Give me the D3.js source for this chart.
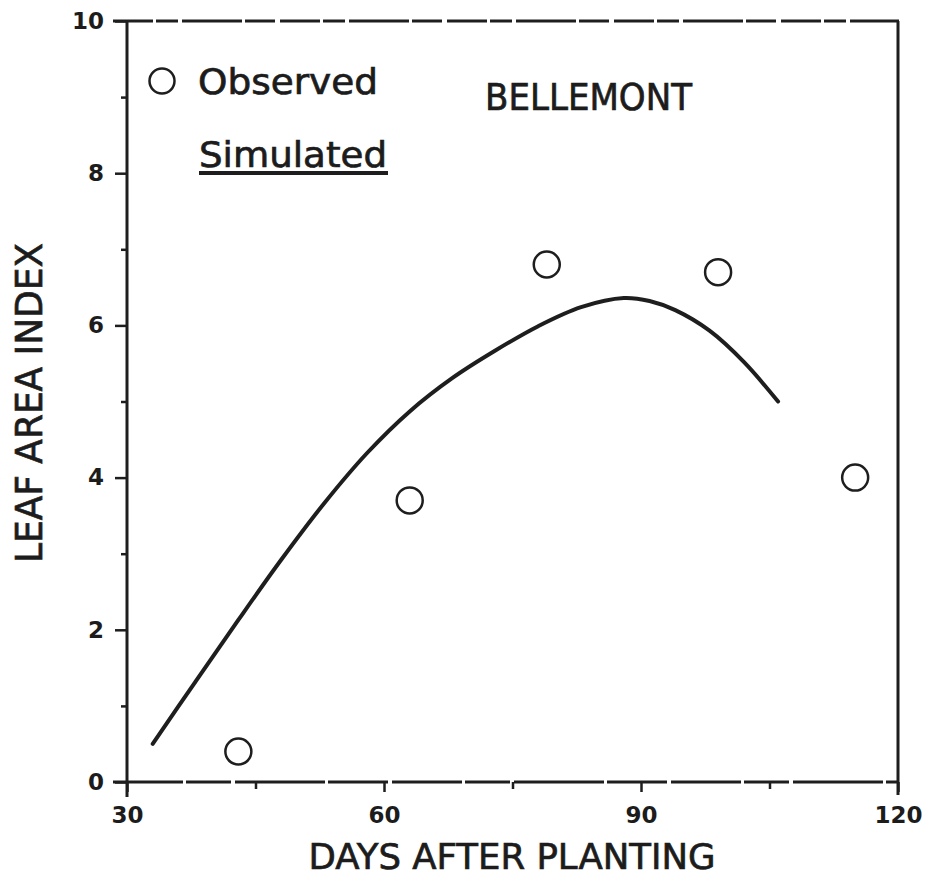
<!DOCTYPE html>
<html>
<head>
<meta charset="utf-8">
<script src="https://cdn.jsdelivr.net/npm/d3@7/dist/d3.min.js"></script>
<style>
  html, body { margin: 0; padding: 0; background: #ffffff; }
  svg { display: block; }
  text { font-family: "DejaVu Sans", sans-serif; fill: #1c1c1c; }
</style>
</head>
<body>
<svg id="chart" width="927" height="878"></svg>
<script>
// Observed leaf area index (sampling days)
const obsDays = [43, 63, 79, 99, 115];
const obsLAI  = [0.4, 3.7, 6.8, 6.7, 4.0];

// Simulated leaf area index curve
const simDays = [33, 38, 43, 48, 53, 58, 63, 68, 73, 78, 83, 88, 91, 94, 98, 102, 106];
const simLAI  = [0.5, 1.32, 2.13, 2.92, 3.66, 4.32, 4.87, 5.31, 5.67, 5.99, 6.24, 6.36, 6.32, 6.2, 5.93, 5.52, 5.0];

// Axis ticks
const xMajor = [30, 60, 90, 120];
const xMinor = [45, 75, 105];
const yMajor = [0, 2, 4, 6, 8, 10];
const yMinor = [1, 3, 5, 7, 9];

const ink = "#1e1e1e";
const svg = d3.select("#chart");

const x = d3.scaleLinear().domain([30, 120]).range([127, 898]);
const y = d3.scaleLinear().domain([0, 10]).range([782, 21]);

// Frame: top and right edges
svg.append("line")
  .attr("x1", x(30) - 14).attr("x2", x(120) + 1)
  .attr("y1", y(10)).attr("y2", y(10))
  .attr("stroke", ink).attr("stroke-width", 3)
  .attr("stroke-dasharray", "40,3,22,4,60,3,30,5");
svg.append("line")
  .attr("x1", x(120)).attr("x2", x(120))
  .attr("y1", y(10)).attr("y2", y(0) + 13)
  .attr("stroke", ink).attr("stroke-width", 3);

// Left axis
const yAxis = svg.append("g").attr("transform", `translate(${x(30)},0)`)
  .call(d3.axisLeft(y).tickValues(yMajor).tickSize(12).tickSizeOuter(0).tickPadding(11));
svg.append("g").attr("transform", `translate(${x(30)},0)`)
  .call(d3.axisLeft(y).tickValues(yMinor).tickSize(6).tickSizeOuter(0).tickFormat(""))
  .select(".domain").remove();
yAxis.select(".domain").remove();
svg.append("line")
  .attr("x1", x(30)).attr("x2", x(30))
  .attr("y1", y(10)).attr("y2", y(0) + 15)
  .attr("stroke", ink).attr("stroke-width", 3);

// Bottom axis
const xAxis = svg.append("g").attr("transform", `translate(0,${y(0)})`)
  .call(d3.axisBottom(x).tickValues(xMajor).tickSize(10).tickSizeOuter(0).tickPadding(15));
svg.append("g").attr("transform", `translate(0,${y(0)})`)
  .call(d3.axisBottom(x).tickValues(xMinor).tickSize(7).tickSizeOuter(0).tickFormat(""))
  .select(".domain").remove();
xAxis.select(".domain").remove();
svg.append("line")
  .attr("x1", x(30) - 14).attr("x2", x(120))
  .attr("y1", y(0)).attr("y2", y(0))
  .attr("stroke", ink).attr("stroke-width", 3)
  .attr("stroke-dasharray", "70,3,45,4,90,3,60,4");

svg.selectAll(".tick line").attr("stroke", ink).attr("stroke-width", 2.5);
svg.selectAll(".tick text")
  .attr("font-family", "DejaVu Sans, sans-serif")
  .attr("font-weight", "bold")
  .attr("font-size", 23)
  .attr("fill", ink);

// Text helper: slightly heavier strokes for the lettering
function label(sel) {
  return sel.attr("stroke", "#1c1c1c").attr("stroke-width", 0.7);
}

// Axis titles
label(svg.append("text")
  .attr("x", 512).attr("y", 869)
  .attr("text-anchor", "middle")
  .attr("font-size", 36)
  .attr("textLength", 407).attr("lengthAdjust", "spacingAndGlyphs")
  .text("DAYS AFTER PLANTING"));
label(svg.append("text")
  .attr("transform", "translate(42,403) rotate(-90)")
  .attr("text-anchor", "middle")
  .attr("font-size", 37)
  .attr("textLength", 320).attr("lengthAdjust", "spacingAndGlyphs")
  .text("LEAF AREA INDEX"));

// Site label
label(svg.append("text")
  .attr("x", 485).attr("y", 110)
  .attr("font-size", 37)
  .attr("textLength", 207).attr("lengthAdjust", "spacingAndGlyphs")
  .text("BELLEMONT"));

// Legend
svg.append("circle")
  .attr("cx", 162).attr("cy", 81).attr("r", 12.5)
  .attr("fill", "none").attr("stroke", ink).attr("stroke-width", 2.5);
label(svg.append("text")
  .attr("x", 198).attr("y", 94)
  .attr("font-size", 36)
  .attr("textLength", 180).attr("lengthAdjust", "spacingAndGlyphs")
  .text("Observed"));
label(svg.append("text")
  .attr("x", 199).attr("y", 167)
  .attr("font-size", 36)
  .attr("textLength", 188).attr("lengthAdjust", "spacingAndGlyphs")
  .text("Simulated"));
svg.append("line")
  .attr("x1", 199).attr("x2", 388)
  .attr("y1", 173).attr("y2", 173)
  .attr("stroke", ink).attr("stroke-width", 4);

// Simulated curve
const line = d3.line()
  .x(d => x(d[0]))
  .y(d => y(d[1]))
  .curve(d3.curveCatmullRom.alpha(0.5));
svg.append("path")
  .datum(d3.zip(simDays, simLAI))
  .attr("d", line)
  .attr("fill", "none")
  .attr("stroke", ink)
  .attr("stroke-width", 4)
  .attr("stroke-linecap", "round");

// Observed points
svg.selectAll("circle.obs")
  .data(d3.zip(obsDays, obsLAI))
  .join("circle")
  .attr("class", "obs")
  .attr("cx", d => x(d[0]))
  .attr("cy", d => y(d[1]))
  .attr("r", 13)
  .attr("fill", "none")
  .attr("stroke", ink)
  .attr("stroke-width", 2.5);
</script>
</body>
</html>
